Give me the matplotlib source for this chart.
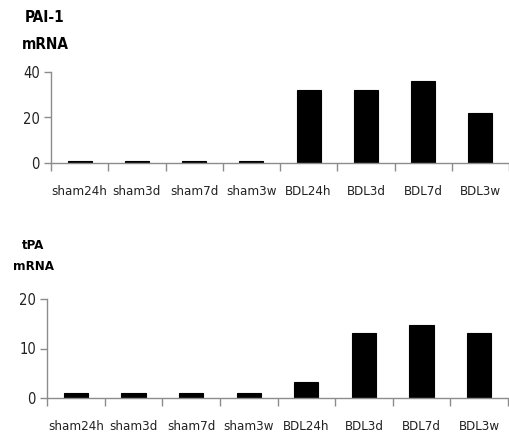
import matplotlib.pyplot as plt
import numpy as np

# Data ----------------------------------------------------------------------

groups = ["sham24h", "sham3d", "sham7d", "sham3w", "BDL24h", "BDL3d", "BDL7d", "BDL3w"]
pai1_mrna = [1, 1, 1, 1, 32, 32, 36.2, 22]
tpa_mrna = [1, 1, 1, 1, 3.3, 13.1, 14.8, 13.1]

AXIS_GREY = "#8c8c8c"
plt.rcParams["font.stretch"] = "condensed"


def draw_panel(ax, values, ymax, step, xmax):
    x = np.arange(len(groups))
    ax.bar(x, values, width=0.42, color="black", edgecolor="black", linewidth=0.8)
    ax.set_xlim(-0.5, xmax)
    ax.set_ylim(0, ymax)
    ax.set_yticks(np.arange(0, ymax + 1, step))
    # category boundaries carry the ticks, labels sit at the centres
    ax.set_xticks(np.arange(len(groups) + 1) - 0.5)
    ax.set_xticklabels([])
    ax.set_xticks(x, minor=True)
    ax.set_xticklabels(groups, minor=True, fontsize=9.5, color="#222222")
    ax.tick_params(axis="x", which="minor", length=0, pad=16)
    ax.tick_params(axis="x", which="major", length=6, color=AXIS_GREY, width=1)
    ax.tick_params(axis="y", length=5, color=AXIS_GREY, width=1, labelsize=10.5,
                   labelcolor="#222222", pad=3)
    for side in ("top", "right"):
        ax.spines[side].set_visible(False)
    for side in ("left", "bottom"):
        ax.spines[side].set_color(AXIS_GREY)
        ax.spines[side].set_linewidth(1)


fig = plt.figure(figsize=(5.09, 4.36), dpi=100)

ax1 = fig.add_axes([51 / 509, 1 - 163 / 436, 458 / 509, 91 / 436])
draw_panel(ax1, pai1_mrna, 40, 20, 7.45)

ax2 = fig.add_axes([47 / 509, 1 - 398 / 436, 461 / 509, 99 / 436])
draw_panel(ax2, tpa_mrna, 20, 10, 7.5)

fig.text(45 / 509, 1 - 18 / 436, "PAI-1", ha="center", va="center", fontsize=11, fontweight="bold")
fig.text(45 / 509, 1 - 44 / 436, "mRNA", ha="center", va="center", fontsize=11, fontweight="bold")
fig.text(33 / 509, 1 - 245 / 436, "tPA", ha="center", va="center", fontsize=9.5, fontweight="bold")
fig.text(33 / 509, 1 - 266 / 436, "mRNA", ha="center", va="center", fontsize=9.5, fontweight="bold")

plt.savefig("out.png", dpi=100)
